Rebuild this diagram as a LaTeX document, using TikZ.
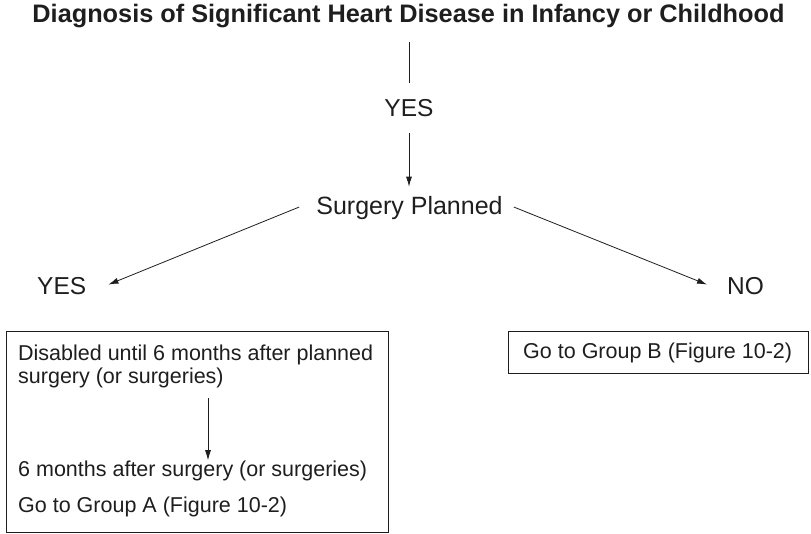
\documentclass[tikz,border=0pt]{standalone}
\usepackage{fontspec}
\setmainfont{Liberation Sans}
\usetikzlibrary{arrows.meta}
\definecolor{ink}{RGB}{30,30,30}
\begin{document}
\begin{tikzpicture}[x=1pt,y=-1pt,
  every node/.style={inner sep=0pt, text=ink},
  lab/.style={font=\fontsize{24.5}{28}\selectfont, anchor=base},
  boxtxt/.style={font=\fontsize{21.5}{25}\selectfont, anchor=base west},
  heading/.style={font=\fontsize{25.3}{29}\selectfont\bfseries, anchor=base},
  frame/.style={draw=ink, line width=0.9pt},
  conn/.style={draw=ink, line width=0.8pt},
  arr/.style={conn, -{Latex[length=10pt,width=6pt]}}
]
\useasboundingbox (0,0) rectangle (811,534);

% heading and decision labels
\node[heading] (title) at (408.5,23) {Diagnosis of Significant Heart Disease in Infancy or Childhood};
\node[lab] (yes1) at (409,117) {YES};
\node[lab, font=\fontsize{25}{28}\selectfont] (surgery) at (409.5,215) {Surgery Planned};
\node[lab, anchor=base west] (yesL) at (37,295) {YES};
\node[lab, anchor=base west] (no) at (727,295) {NO};

% outcome boxes
\node[frame, minimum width=382pt, minimum height=201pt] (boxA) at (197,431.5) {};
\node[frame, minimum width=300pt, minimum height=42pt] (boxB) at (658,352) {};

\node[boxtxt] (a1) at (18,360) {Disabled until 6 months after planned};
\node[boxtxt] (a2) at (18,384) {surgery (or surgeries)};
\node[boxtxt] (a3) at (18,476) {6 months after surgery (or surgeries)};
\node[boxtxt] (a4) at (18,512) {Go to Group A (Figure 10-2)};
\node[boxtxt] (b1) at (523,359) {Go to Group B (Figure 10-2)};
\coordinate (ax) at (208,0);

% connectors
\draw[conn, shorten <=13pt, shorten >=17pt] (title.south -| yes1) -- (yes1.north);
\draw[arr, shorten <=16pt, shorten >=10pt] (yes1.south) -- (yes1.south |- surgery.north);
\draw[arr] ([shift={(-17,-1.5)}]surgery.west) -- ([shift={(22,-2)}]yesL.east);
\draw[arr] ([shift={(11,-1.5)}]surgery.east) -- ([shift={(-20,-2)}]no.west);
\draw[arr, shorten <=9.5pt] (a2.south -| ax) -- (a3.north -| ax);
\end{tikzpicture}
\end{document}
